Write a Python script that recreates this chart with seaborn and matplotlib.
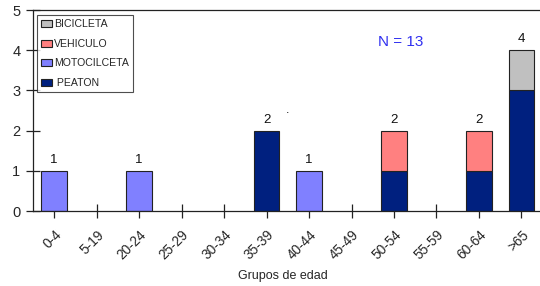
import numpy as np
import pandas as pd
import seaborn as sns
import matplotlib.pyplot as plt
from matplotlib.patches import Patch

sns.set_theme(style="white")
plt.rcParams["font.family"] = ["Liberation Sans", "DejaVu Sans"]

grupos = ["0-4", "5-19", "20-24", "25-29", "30-34", "35-39",
          "40-44", "45-49", "50-54", "55-59", "60-64", ">65"]
peaton      = [0, 0, 0, 0, 0, 2, 0, 0, 1, 0, 1, 3]
motocilceta = [1, 0, 1, 0, 0, 0, 1, 0, 0, 0, 0, 0]
vehiculo    = [0, 0, 0, 0, 0, 0, 0, 0, 1, 0, 1, 0]
bicicleta   = [0, 0, 0, 0, 0, 0, 0, 0, 0, 0, 0, 1]

series = [(" PEATON", peaton, "#00207F"),
          ("MOTOCILCETA", motocilceta, "#8080FF"),
          ("VEHICULO", vehiculo, "#FF8080"),
          ("BICICLETA", bicicleta, "#C0C0C0")]

fig = plt.figure(figsize=(5.4, 2.86), dpi=100)
ax = fig.add_axes([0.061, 0.262, 0.944, 0.703])

bottom = np.zeros(len(grupos))
for name, vals, col in series:
    vals = np.array(vals, dtype=float)
    sns.barplot(x=grupos, y=vals, bottom=bottom, color=col, saturation=1,
                width=0.6, edgecolor="#222222", linewidth=0.8, ax=ax)
    bottom += vals

# las barras de altura cero no deben verse
for p in ax.patches:
    if p.get_height() == 0:
        p.set_visible(False)

for i, tot in enumerate(bottom):
    if tot > 0:
        ax.text(i, tot + 0.12, f"{int(tot)}", ha="center", va="bottom", fontsize=9.5, color="#111111")

ax.set_xlim(-0.5, 11.5)
ax.set_ylim(0, 5)
ax.set_yticks(range(6))
ax.spines["right"].set_visible(False)
for s in ["left", "top", "bottom"]:
    ax.spines[s].set_color("#222222")
    ax.spines[s].set_linewidth(0.9)
ax.tick_params(axis="both", direction="inout", length=10, width=0.9, color="#222222",
               left=True, bottom=True)
ax.tick_params(axis="y", labelsize=10.5, pad=4)
ax.tick_params(axis="x", labelsize=9.8, pad=7)
plt.setp(ax.get_xticklabels(), rotation=45, ha="right", rotation_mode="anchor")
ax.set_xlabel("Grupos de edad", fontsize=9)
ax.xaxis.set_label_coords(0.4906, -0.323)
ax.xaxis.label.set_va("center")
ax.set_ylabel("")

handles = [Patch(facecolor=col, edgecolor="#222222", linewidth=0.8, label=name)
           for name, _, col in series[::-1]]
leg = ax.legend(handles=handles, loc="upper left", bbox_to_anchor=(0.004, 0.985),
                fontsize=7.6, frameon=True, fancybox=False, edgecolor="#222222",
                handlelength=1.05, handleheight=0.65, handletextpad=0.12,
                labelspacing=0.9, borderpad=0.4, borderaxespad=0.2)
leg.get_frame().set_linewidth(0.8)

ax.text(8.15, 4.2, "N = 13", color="#3030F0", fontsize=11, ha="center", va="center")
ax.text(5.5, 2.45, ".", fontsize=9, color="#111111", ha="center")

fig.savefig("out.png", dpi=100)
